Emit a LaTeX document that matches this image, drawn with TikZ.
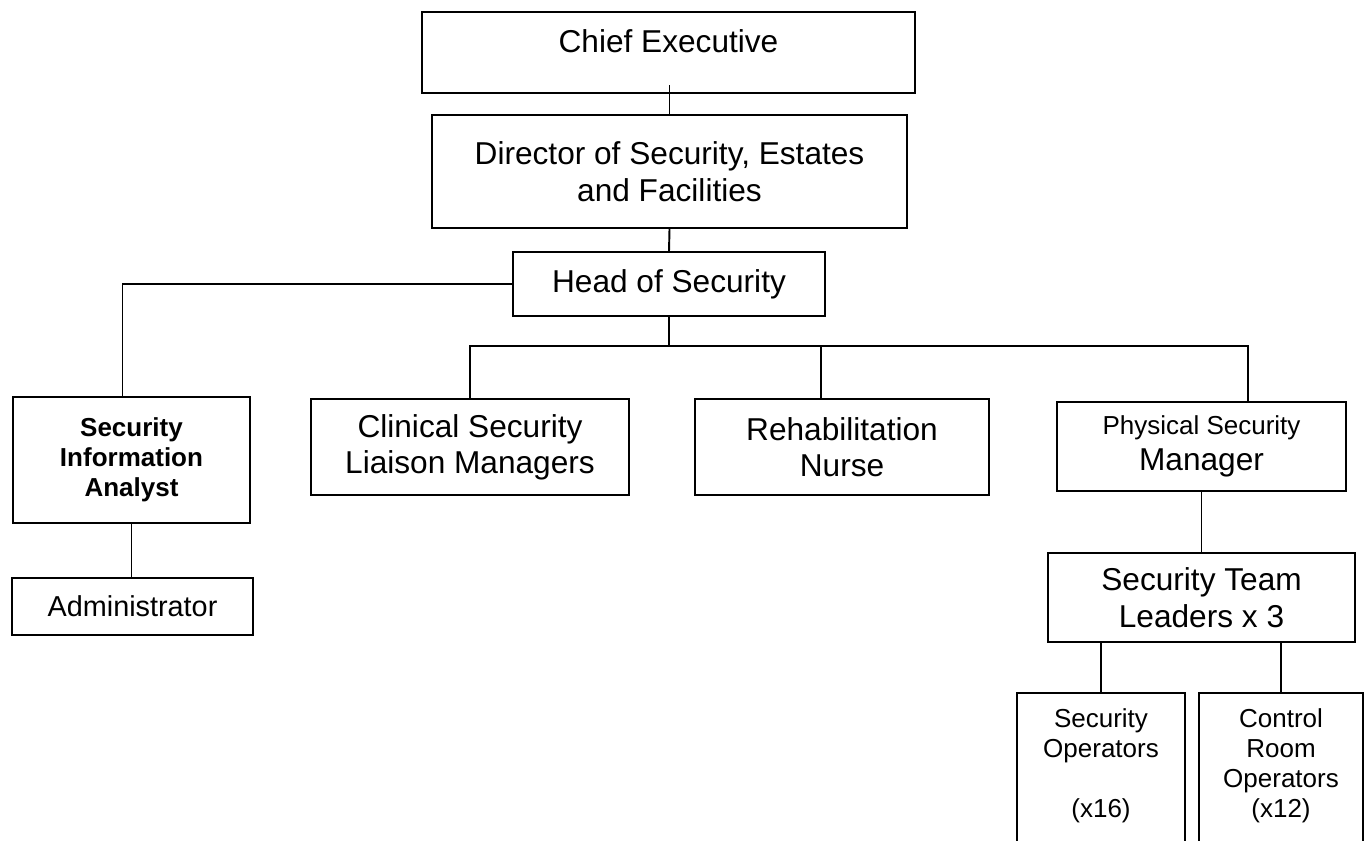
\documentclass[tikz,border=0pt]{standalone}
\usepackage{fontspec}
\setmainfont{Liberation Sans}

\begin{document}
\begin{tikzpicture}[x=0.02cm, y=-0.02cm,
    box/.style={rectangle, draw=black, line width=1.1pt, align=center, inner sep=0pt},
    big/.style={font=\fontsize{18pt}{20.7pt}\selectfont},
    mid/.style={font=\fontsize{16.4pt}{18.9pt}\selectfont},
    small/.style={font=\fontsize{14.8pt}{17pt}\selectfont},
    conn/.style={line width=1.1pt},
  ]
  \clip (0,0) rectangle (1364,840);

  % Top of the chain
  \node[box, big, minimum width=9.86cm, minimum height=1.62cm,
        text height=0.5cm, text depth=0.5cm] (chief) at (668.5,52.5)
    {Chief Executive};
  \node[box, big, minimum width=9.5cm, minimum height=2.26cm] (dir) at (669.5,171.5)
    {Director of Security, Estates\\and Facilities};
  \node[box, big, minimum width=6.24cm, minimum height=1.28cm] (head) at (669,284)
    {Head of Security};

  % Second row
  \node[box, small, minimum width=4.74cm, minimum height=2.52cm] (sia) at (131.5,460)
    {\bfseries Security\\\bfseries Information\\\bfseries Analyst};
  \node[box, mid, minimum width=4.82cm, minimum height=1.14cm] (admin) at (132.5,606.5)
    {Administrator};
  \node[box, big, minimum width=6.36cm, minimum height=1.92cm] (clin) at (470,447)
    {Clinical Security\\Liaison Managers};
  \node[box, big, minimum width=5.88cm, minimum height=1.92cm] (rehab) at (842,447)
    {Rehabilitation\\Nurse};
  \node[box, big, minimum width=5.78cm, minimum height=1.78cm] (phys) at (1201.5,446.5)
    {{\fontsize{14.8pt}{17pt}\selectfont Physical Security}\\Manager};

  % Security team
  \node[box, big, minimum width=6.14cm, minimum height=1.78cm] (team) at (1201.5,597.5)
    {Security Team\\Leaders x 3};
  \node[box, small, minimum width=3.36cm, minimum height=3.12cm, text depth=8.8pt] (secops) at (1101,771)
    {Security\\Operators\\\mbox{}\\(x16)};
  \node[box, small, minimum width=3.28cm, minimum height=3.12cm, text depth=8.8pt] (ctrl) at (1281,771)
    {Control\\Room\\Operators\\(x12)};

  % Connectors
  \draw[conn] (dir.north) -- ([yshift=0.18cm]dir.north |- chief.south);
  \draw[conn] (dir.south) -- (head.north);
  \draw[conn] (head.west) -| ([xshift=-0.18cm]sia.north);
  \draw[conn] (sia.south) -- (sia.south |- admin.north);
  \coordinate (bus) at (669,346);
  \draw[conn] (head.south) -- (bus);
  \draw[conn] (clin.north) |- (bus) -| ([xshift=0.93cm]phys.north);
  \draw[conn] ([xshift=-0.42cm]rehab.north) -- ([xshift=-0.42cm]rehab.north |- bus);
  \draw[conn] (phys.south) -- (team.north);
  \draw[conn] (team.south -| secops.north) -- (secops.north);
  \draw[conn] (team.south -| ctrl.north) -- (ctrl.north);
\end{tikzpicture}
\end{document}
